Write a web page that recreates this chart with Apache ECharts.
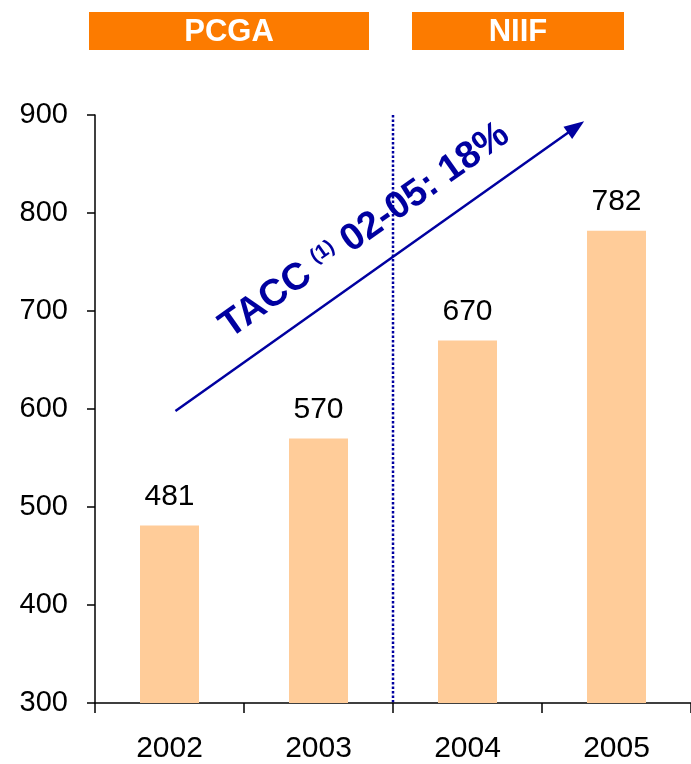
<!DOCTYPE html>
<html><head><meta charset="utf-8">
<script src="https://cdn.jsdelivr.net/npm/echarts@6/dist/echarts.min.js"></script>
<style>html,body{margin:0;padding:0;background:#fff}#c{width:691px;height:764px}</style>
</head><body><div id="c"></div>
<script>
const categories = ['2002', '2003', '2004', '2005'];
const values = [481, 570, 670, 782];
const yTicks = [300, 400, 500, 600, 700, 800, 900];
const headers = ['PCGA', 'NIIF'];
const cagrText = ['TACC ', '(1)', ' 02-05: 18%'];

const chart = echarts.init(document.getElementById('c'));
const FONT = '"Liberation Sans", Arial, sans-serif';
chart.setOption({
  animation: false,
  grid: { left: 95, top: 115, width: 600, bottom: 58 },
  xAxis: [{
    type: 'category', data: categories,
    axisLine: { lineStyle: { color: '#000', width: 1.5 } },
    axisTick: { show: true, length: 10, lineStyle: { color: '#000', width: 1.5 } },
    axisLabel: { color: '#000', fontSize: 30, fontFamily: FONT, margin: 31 }
  }, {
    type: 'value', min: -0.5, max: 3.5, show: false
  }],
  yAxis: {
    type: 'value', min: yTicks[0], max: yTicks[yTicks.length - 1], interval: 100,
    axisLine: { show: true, onZero: false, lineStyle: { color: '#000', width: 1.5 } },
    axisTick: { show: true, length: 8, lineStyle: { color: '#000', width: 1.5 } },
    splitLine: { show: false },
    axisLabel: { color: '#000', fontSize: 29, fontFamily: FONT, margin: 27 }
  },
  series: [{
    type: 'bar', data: values, barWidth: 59,
    itemStyle: { color: '#FFCC99' },
    label: { show: true, position: 'top', distance: 14, color: '#000', fontSize: 30, fontFamily: FONT }
  }]
});

function px(xv, yv) { return chart.convertToPixel({ xAxisIndex: 1, yAxisIndex: 0 }, [xv, yv]); }
const lineTop = px(1.5, 900), lineBot = px(1.5, 300);
const a0 = px(0.04, 598), a1 = px(2.75, 890);
const ang = Math.atan2(a0[1] - a1[1], a1[0] - a0[0]);
const tc = px(1.31, 782);

chart.setOption({
  graphic: [
    { type: 'rect', shape: { x: 89, y: 12, width: 280, height: 38 }, style: { fill: '#FC7B00' } },
    { type: 'rect', shape: { x: 412, y: 12, width: 212, height: 38 }, style: { fill: '#FC7B00' } },
    { type: 'text', x: 229, y: 32, style: { text: headers[0], fill: '#fff', font: 'bold 31px ' + FONT, align: 'center', verticalAlign: 'middle' } },
    { type: 'text', x: 518, y: 32, style: { text: headers[1], fill: '#fff', font: 'bold 31px ' + FONT, align: 'center', verticalAlign: 'middle' } },
    { type: 'line', shape: { x1: lineTop[0], y1: lineTop[1], x2: lineBot[0], y2: lineBot[1] },
      style: { stroke: '#0000A0', lineWidth: 2.5, lineDash: [2.5, 2] } },
    { type: 'line', shape: { x1: a0[0], y1: a0[1], x2: a1[0], y2: a1[1] },
      style: { stroke: '#0000A0', lineWidth: 2.5 } },
    { type: 'polygon', x: a1[0], y: a1[1], rotation: ang,
      shape: { points: [[6, 0], [-14, -7.5], [-14, 7.5]] }, style: { fill: '#0000A0' } },
    { type: 'text', x: tc[0], y: tc[1], rotation: ang,
      style: {
        text: '{a|' + cagrText[0] + '}{s|' + cagrText[1] + '}{a|' + cagrText[2] + '}',
        align: 'center', verticalAlign: 'middle',
        rich: {
          a: { fontSize: 38, fontWeight: 'bold', fontFamily: FONT, fill: '#0000A0', color: '#0000A0' },
          s: { fontSize: 20, fontWeight: 'bold', fontFamily: FONT, fill: '#0000A0', color: '#0000A0', padding: [0, 0, 14, 0] }
        }
      } }
  ]
});
</script></body></html>
